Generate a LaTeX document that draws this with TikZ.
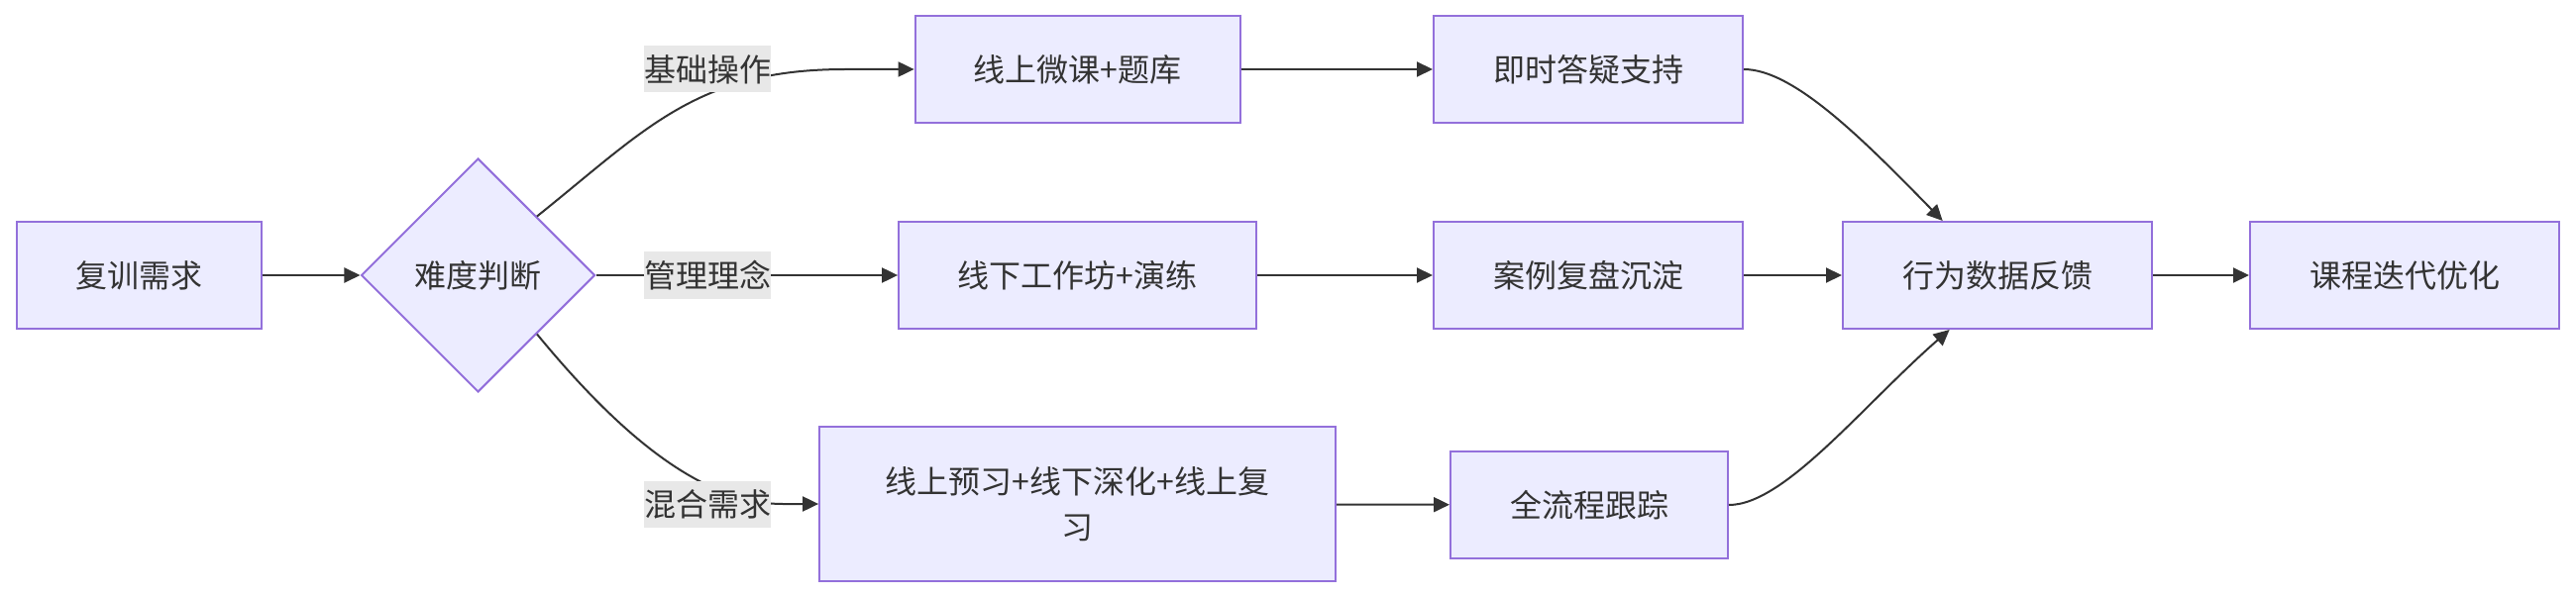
\documentclass[tikz,border=0pt]{standalone}
\usepackage{fontspec}
\setmainfont{Noto Sans CJK SC}
\usetikzlibrary{shapes.geometric,arrows.meta,calc}
\definecolor{nodefill}{HTML}{ECECFF}
\definecolor{nodeline}{HTML}{9370DB}
\definecolor{edgeline}{HTML}{333333}
\definecolor{txt}{HTML}{333333}
\definecolor{lblbg}{HTML}{E8E8E8}
\begin{document}
\begin{tikzpicture}[x=1pt,y=-1pt,
  box/.style={draw=nodeline, fill=nodefill, line width=2pt, inner sep=0pt,
    minimum height=108pt, text=txt, font=\fontsize{32}{46}\selectfont},
  dia/.style={diamond, aspect=1, draw=nodeline, fill=nodefill, line width=2pt,
    inner sep=0pt, minimum width=236pt, minimum height=236pt, text=txt,
    font=\fontsize{32}{46}\selectfont},
  lbl/.style={fill=lblbg, inner sep=0pt, minimum width=128pt, minimum height=47pt,
    text=txt, font=\fontsize{32}{46}\selectfont},
  arr/.style={draw=edgeline, line width=2pt, -{Triangle[length=16pt,width=15pt]}}]
\useasboundingbox (0,0) rectangle (2600,604);
% nodes
\node[box, minimum width=247pt] (a) at (140,278) {复训需求};
\node[dia] (b) at (482.5,278) {难度判断};
\node[box, minimum width=328pt] (c) at (1087.6,70) {线上微课+题库};
\node[box, minimum width=312pt] (d) at (1603,70) {即时答疑支持};
\node[box, minimum width=361pt] (e) at (1087.6,278) {线下工作坊+演练};
\node[box, minimum width=312pt] (f) at (1603,278) {案例复盘沉淀};
\node[box, minimum width=521pt, minimum height=156pt, align=center] (g) at (1087.6,509) {线上预习+线下深化+线上复\\习};
\node[box, minimum width=280pt] (h) at (1604,510) {全流程跟踪};
\node[box, minimum width=312pt] (i) at (2016,278) {行为数据反馈};
\node[box, minimum width=312pt] (j) at (2427,278) {课程迭代优化};
% helper coordinates
\coordinate (k1) at (853,70);
\coordinate (k3) at (790,509);
\coordinate (i1) at ($(i.north west)!0.324!(i.north east)$);
\coordinate (i2) at ($(i.south west)!0.346!(i.south east)$);
% edges
\draw[arr] (a) -- (b);
\draw[arr] (b.north east) .. controls +(110,-88) and +(-150,0) .. (k1) -- (c.west);
\draw[arr] (b.east) -- (e.west);
\draw[arr] (b.south east) .. controls +(70,85) and +(-90,0) .. (k3) -- (g.west);
\draw[arr] (c) -- (d);
\draw[arr] (e) -- (f);
\draw[arr] (g) -- (h);
\draw[arr] (d.east) .. controls +(50,0) and +(-81,-83) .. (i1);
\draw[arr] (f) -- (i);
\draw[arr] (h.east) .. controls +(56,0) and +(-88,77) .. (i2);
\draw[arr] (i) -- (j);
% edge labels
\node[lbl] (l1) at (714,70) {基础操作};
\node[lbl] (l2) at (714,278) {管理理念};
\node[lbl] (l3) at (714,509) {混合需求};
\end{tikzpicture}
\end{document}
